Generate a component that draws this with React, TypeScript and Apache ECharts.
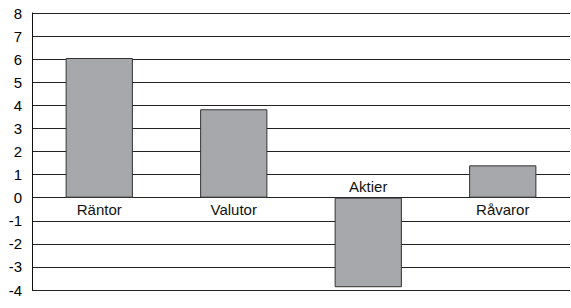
import React, { useEffect, useRef } from "react";
import * as echarts from "echarts";

const categories = ["Räntor", "Valutor", "Aktier", "Råvaror"];
const values = [6.05, 3.83, -3.88, 1.4];
const yMin = -4;
const yMax = 8;
const yInterval = 1;

export default function App() {
  const ref = useRef<HTMLDivElement>(null);
  useEffect(() => {
    if (!ref.current) return;
    const chart = echarts.init(ref.current, null, { renderer: "svg" });
    const font = "'Liberation Sans', Arial, Helvetica, sans-serif";
    chart.setOption({
      animation: false,
      grid: { left: 32, right: 1, top: 13, bottom: 18, containLabel: false },
      xAxis: {
        type: "category",
        data: categories,
        axisLine: { show: false },
        axisTick: { show: false },
        axisLabel: { show: false },
        splitLine: { show: false },
      },
      yAxis: {
        type: "value",
        min: yMin,
        max: yMax,
        interval: yInterval,
        axisLine: { show: true, lineStyle: { color: "#111", width: 1 } },
        axisTick: { show: false },
        axisLabel: {
          color: "#000",
          fontSize: 15,
          fontFamily: font,
          margin: 10,
          padding: [5, 0, 0, 0],
        },
        splitLine: { show: true, lineStyle: { color: "#222", width: 1 } },
      },
      series: [
        {
          type: "bar",
          barWidth: "50%",
          itemStyle: { color: "#a7a8ab", borderColor: "#333", borderWidth: 1 },
          data: values.map((v) => ({
            value: v,
            label: {
              show: true,
              position: v >= 0 ? "bottom" : "top",
              distance: 4,
              formatter: "{b}",
              color: "#111",
              fontSize: 15,
              fontFamily: font,
            },
          })),
        },
      ],
    });
    return () => chart.dispose();
  }, []);
  return (
    <div
      ref={ref}
      style={{ width: 571, height: 308, position: "fixed", left: 0, top: 0, background: "#fff" }}
    />
  );
}
